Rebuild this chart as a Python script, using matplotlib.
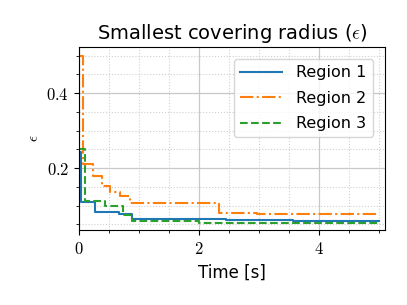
import numpy as np
import matplotlib
matplotlib.use("Agg")
import matplotlib.pyplot as plt
from matplotlib.ticker import MultipleLocator, FuncFormatter

plt.rcParams['mathtext.fontset'] = 'cm'
plt.rcParams['font.family'] = ['DejaVu Sans']

# step data (time [s], epsilon)
t1 = [0.0, 0.04, 0.27, 0.66, 0.88, 2.45, 3.57, 5.0]
r1 = [0.243, 0.11, 0.082, 0.077, 0.063, 0.061, 0.059, 0.059]

t2 = [0.0, 0.07, 0.23, 0.38, 0.52, 0.68, 0.85, 2.34, 2.96, 5.0]
r2 = [0.50, 0.21, 0.18, 0.153, 0.136, 0.125, 0.106, 0.081, 0.077, 0.077]

t3 = [0.0, 0.1, 0.43, 0.73, 0.88, 2.0, 5.0]
r3 = [0.25, 0.113, 0.10, 0.075, 0.058, 0.054, 0.054]

fig = plt.figure(figsize=(4.07, 3.05), dpi=100)
ax = fig.add_axes([0.194, 0.246, 0.752, 0.60])

ax.plot(t1, r1, drawstyle='steps-post', color='#1f77b4', ls='-', lw=1.5, label='Region 1')
ax.plot(t2, r2, drawstyle='steps-post', color='#ff7f0e', ls='-.', lw=1.5, label='Region 2')
ax.plot(t3, r3, drawstyle='steps-post', color='#2ca02c', ls='--', lw=1.5, label='Region 3')

ax.set_xlim(0, 5.1)
ax.set_ylim(0.035, 0.523)
ax.xaxis.set_major_locator(MultipleLocator(2))
ax.xaxis.set_minor_locator(MultipleLocator(0.5))
ax.yaxis.set_major_locator(MultipleLocator(0.2))
ax.yaxis.set_minor_locator(MultipleLocator(0.05))
fmt = FuncFormatter(lambda v, p: '$%g$' % round(v, 2))
ax.xaxis.set_major_formatter(fmt)
ax.yaxis.set_major_formatter(fmt)
ax.tick_params(labelsize=12)

ax.grid(which='major', color='#c8c8c8', lw=0.9)
ax.grid(which='minor', color='#d0d0d0', ls=':', lw=0.8)
ax.set_axisbelow(True)

ax.set_title(r'Smallest covering radius ($\epsilon$)', fontsize=14)
ax.set_xlabel('Time [s]', fontsize=12)
ax.set_ylabel(r'$\epsilon$', fontsize=11)

ax.legend(loc='upper right', fontsize=11.5, handlelength=2.6, handletextpad=0.9,
          labelspacing=0.65, borderaxespad=0.75)

fig.savefig('out.png', dpi=100)
